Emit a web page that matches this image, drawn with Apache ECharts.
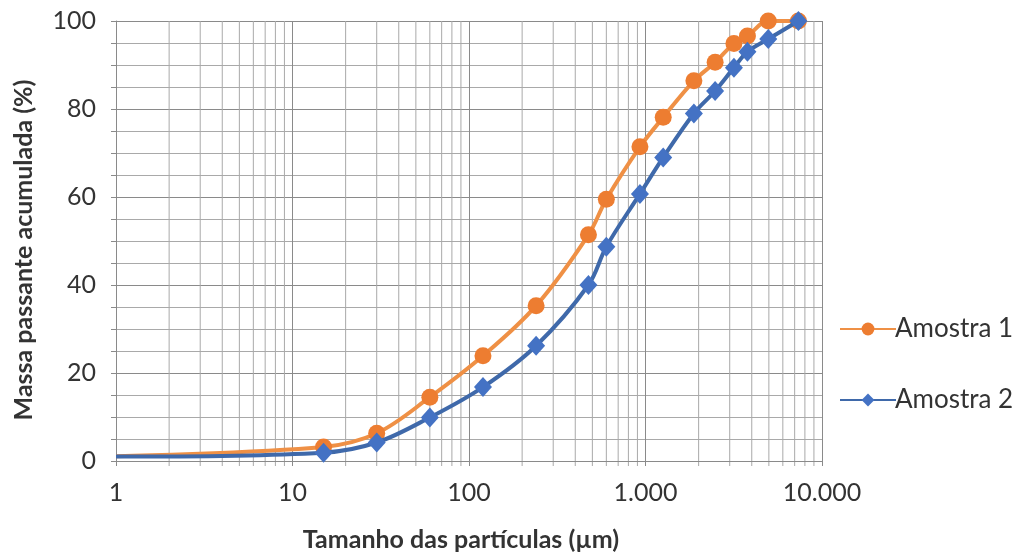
<!DOCTYPE html>
<html>
<head>
<meta charset="utf-8">
<script src="https://cdn.jsdelivr.net/npm/echarts@6/dist/echarts.min.js"></script>
<style>
  html, body { margin: 0; padding: 0; background: #fff; }
  #chart { width: 1021px; height: 557px; }
</style>
</head>
<body>
<div id="chart"></div>
<script>
// Particle size (µm) at each measured point
const sizes = [1, 15, 30, 60, 120, 240, 475, 600, 930, 1260, 1880, 2480, 3170, 3780, 4960, 7350];
// Cumulative passing mass (%) for each sample
const amostra1 = [1.1, 3.2, 6.3, 14.5, 23.9, 35.3, 51.4, 59.5, 71.4, 78.1, 86.4, 90.6, 94.9, 96.6, 100, 100];
const amostra2 = [1.0, 1.9, 4.2, 9.9, 16.8, 26.2, 40.0, 48.7, 60.7, 69.0, 79.0, 84.1, 89.4, 93.0, 95.9, 100];
// Intermediate log-scale gridline positions (2..9 in each decade)
const minorX = [2, 3, 4, 5, 6, 7, 8, 9,
  20, 30, 40, 50, 60, 70, 80, 90,
  200, 300, 400, 500, 600, 700, 800, 900,
  2000, 3000, 4000, 5000, 6000, 7000, 8000, 9000];
const decadeX = [1, 10, 100, 1000, 10000];
const decadeLabels = ['1', '10', '100', '1.000', '10.000'];

const FONT = 'Lato';
const TEXT = '#333333';
const GRID_MAJOR = '#8a8a8a';
const GRID_MINOR = '#a9a9a9';

function pairs(xs, ys) { return xs.map((x, i) => [x, ys[i]]); }

// first point only anchors the curve at the axis, no marker
function withHiddenFirst(arr) {
  return arr.map((p, i) => i === 0 ? { value: p, symbolSize: 0 } : p);
}

const chart = echarts.init(document.getElementById('chart'), null, { renderer: 'canvas' });

chart.setOption({
  animation: false,
  backgroundColor: '#ffffff',
  textStyle: { fontFamily: FONT },
  grid: { left: 116, top: 21, width: 706, height: 440, containLabel: false },
  legend: {
    orient: 'vertical',
    left: 834,
    top: 311,
    itemWidth: 56,
    itemHeight: 16,
    itemGap: 45,
    textStyle: { fontFamily: FONT, fontSize: 26, color: TEXT, padding: [0, 0, 0, -6] },
    data: ['Amostra 1', 'Amostra 2']
  },
  xAxis: {
    type: 'log',
    logBase: 10,
    min: 1,
    max: 10000,
    name: 'Tamanho das partículas (µm)',
    nameLocation: 'middle',
    nameGap: 66,
    nameTextStyle: { fontFamily: FONT, fontSize: 25, fontWeight: 'bold', color: TEXT, padding: [0, 16, 0, 0] },
    axisLine: { show: true, lineStyle: { color: GRID_MAJOR, width: 1 } },
    axisTick: { show: true, length: 5, lineStyle: { color: GRID_MAJOR } },
    axisLabel: {
      margin: 19, fontFamily: FONT, fontSize: 25, color: TEXT,
      formatter: v => {
        const i = decadeX.findIndex(d => Math.abs(d - v) < 1e-6 * d);
        return i >= 0 ? decadeLabels[i] : '';
      }
    },
    splitLine: { show: true, lineStyle: { color: GRID_MAJOR, width: 1 } }
  },
  yAxis: {
    type: 'value',
    min: 0,
    max: 100,
    interval: 20,
    name: 'Massa passante acumulada (%)',
    nameLocation: 'middle',
    nameGap: 80,
    nameTextStyle: { fontFamily: FONT, fontSize: 25, fontWeight: 'bold', color: TEXT, padding: [0, 18, 0, 0] },
    axisLine: { show: true, lineStyle: { color: GRID_MAJOR, width: 1 } },
    axisTick: { show: true, length: 5, lineStyle: { color: GRID_MAJOR } },
    minorTick: { show: true, splitNumber: 4, length: 5, lineStyle: { color: GRID_MAJOR } },
    axisLabel: { margin: 20, fontFamily: FONT, fontSize: 25, color: TEXT },
    splitLine: { show: true, lineStyle: { color: GRID_MAJOR, width: 1 } },
    minorSplitLine: { show: true, lineStyle: { color: GRID_MINOR, width: 1 } }
  },
  series: [
    {
      // vertical gridlines and ticks inside each decade
      type: 'custom',
      silent: true,
      z: 0,
      clip: false,
      data: minorX.map(x => [x, 0]),
      encode: { x: 0, y: 1 },
      renderItem: (params, api) => {
        const x = api.value(0);
        const bottom = api.coord([x, 0]);
        const top = api.coord([x, 100]);
        return {
          type: 'line',
          shape: { x1: bottom[0], y1: top[1], x2: bottom[0], y2: bottom[1] + 5 },
          style: { stroke: GRID_MINOR, lineWidth: 1 }
        };
      }
    },
    {
      name: 'Amostra 1',
      type: 'line',
      z: 3,
      smooth: 0.35,
      data: withHiddenFirst(pairs(sizes, amostra1)),
      symbol: 'circle',
      symbolSize: 17,
      lineStyle: { color: '#EF9045', width: 4 },
      itemStyle: { color: '#ED7D31' }
    },
    {
      name: 'Amostra 2',
      type: 'line',
      z: 4,
      smooth: 0.35,
      data: withHiddenFirst(pairs(sizes, amostra2)),
      symbol: 'diamond',
      symbolSize: [18, 20],
      lineStyle: { color: '#3F69AA', width: 4 },
      itemStyle: { color: '#4472C4' }
    }
  ]
});
</script>
</body>
</html>
